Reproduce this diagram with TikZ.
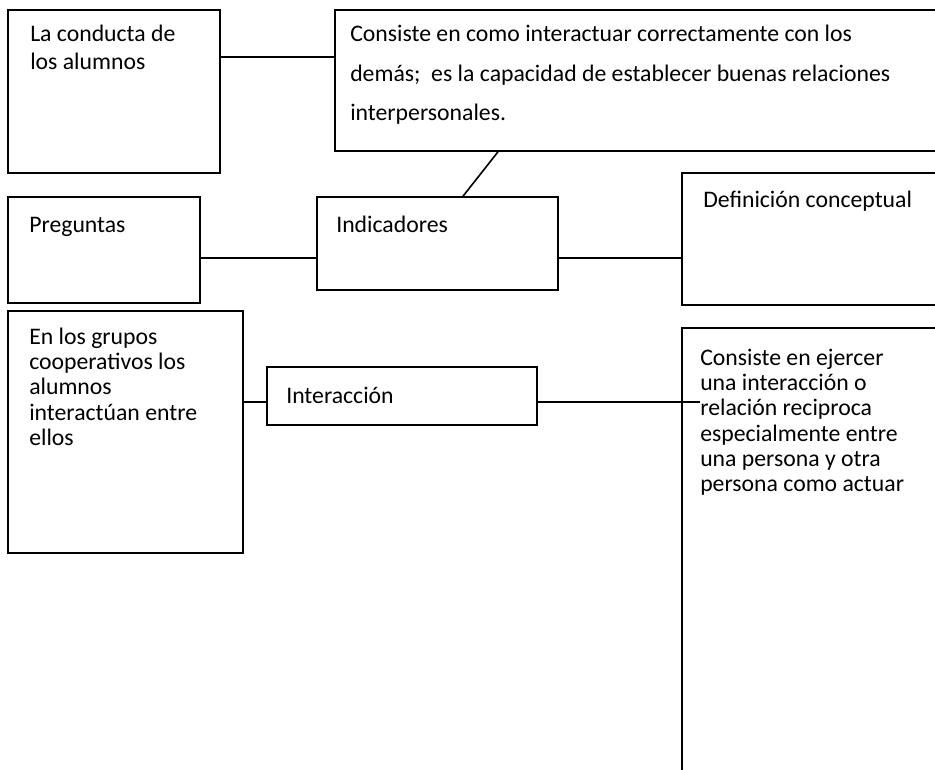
\documentclass[tikz,border=0pt]{standalone}
\usepackage{fontspec}
\setmainfont{Carlito}
\newcommand{\mlines}[2]{{\fontsize{17.8pt}{#1}\selectfont\begin{tabular}[t]{@{}l@{}}#2\end{tabular}}}
\begin{document}
\begin{tikzpicture}[x=0.75pt,y=-0.75pt,
  box/.style={draw,line width=1.2pt,rectangle,inner sep=0pt},
  conn/.style={line width=1.2pt},
  txt/.style={anchor=base west,inner sep=0pt,font=\fontsize{17.8pt}{21pt}\selectfont}]
\useasboundingbox (0,0) rectangle (935,770);
\clip (0,0) rectangle (935,770);
% boxes
\node[box,minimum width=212*0.75pt,minimum height=163*0.75pt] (b1) at (114,91.5) {};
\node[box,minimum width=610*0.75pt,minimum height=141*0.75pt] (b2) at (640,80.5) {};
\node[box,minimum width=192*0.75pt,minimum height=106*0.75pt] (preg) at (104,250) {};
\node[box,minimum width=241*0.75pt,minimum height=93*0.75pt] (ind) at (437.5,243.5) {};
\node[box,minimum width=263*0.75pt,minimum height=132*0.75pt] (def) at (813.5,239) {};
\node[box,minimum width=235*0.75pt,minimum height=242*0.75pt] (grp) at (125.5,432) {};
\node[box,minimum width=270*0.75pt,minimum height=58*0.75pt] (inter) at (402,396) {};
\node[box,minimum width=263*0.75pt,minimum height=462*0.75pt] (rb) at (813.5,559) {};
% texts
\node[txt] (t1) at (30,42) {\mlines{21pt}{La conducta de\\los alumnos}};
\node[txt] (t2) at (350,42) {\mlines{29.6pt}{Consiste en como interactuar correctamente con los\\demás;~ es la capacidad de establecer buenas relaciones\\interpersonales.}};
\node[txt] (tp) at (29,232) {Preguntas};
\node[txt] (ti) at (336,232) {Indicadores};
\node[txt] (td) at (703,207) {Definición conceptual};
\node[txt] (tg) at (29,344) {\mlines{19.1pt}{En los grupos\\cooperativos los\\alumnos\\interactúan entre\\ellos}};
\node[txt] (tin) at (286,403) {Interacción};
\node[txt] (tr) at (700,365) {\mlines{19pt}{Consiste en ejercer\\una interacción o\\relación reciproca\\especialmente entre\\una persona y otra\\persona como actuar}};
% connectors
\coordinate (rend) at (700,402);
\draw[conn] (b1.east |- 0,57) -- (b2.west |- 0,57);
\draw[conn] (b2.south -| 498,0) -- (ind.north -| 463,0);
\draw[conn] (preg.east |- 0,258) -- (ind.west |- 0,258);
\draw[conn] (ind.east |- 0,258) -- (def.west |- 0,258);
\draw[conn] (grp.east |- 0,402) -- (inter.west |- 0,402);
\draw[conn] (inter.east |- rend) -- (rend);
\end{tikzpicture}
\end{document}
